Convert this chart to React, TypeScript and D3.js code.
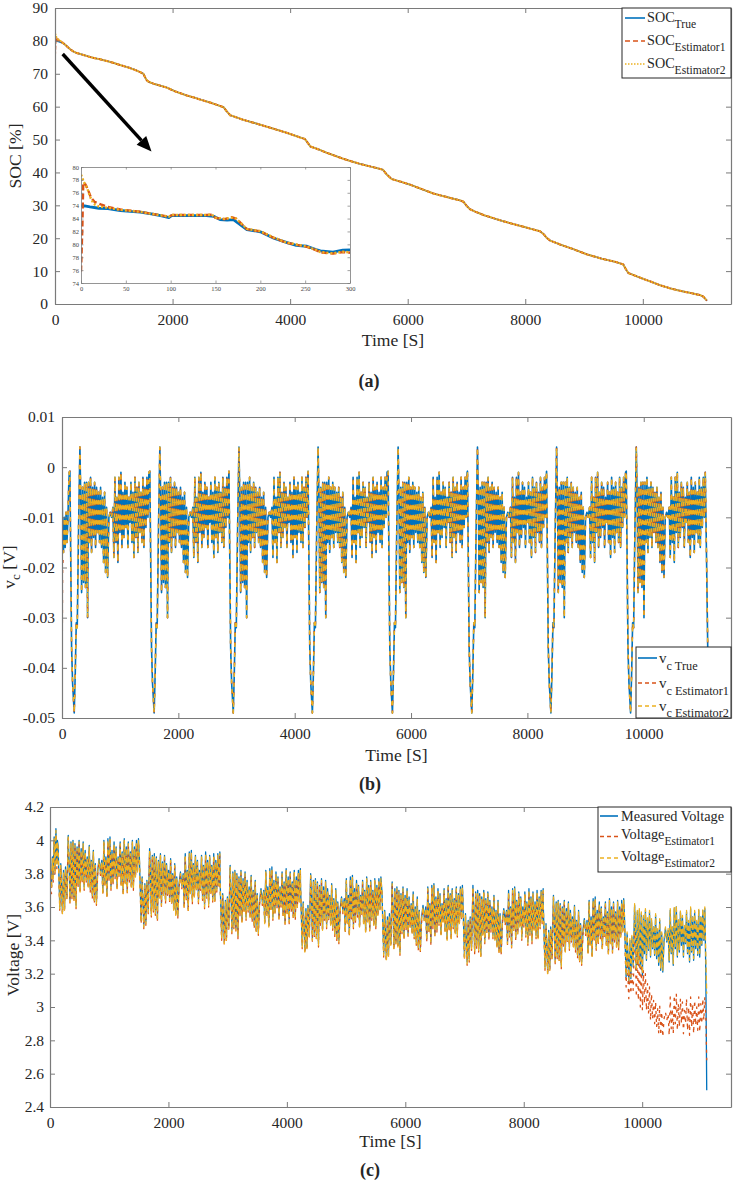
import { useEffect, useRef } from "react";
import * as d3 from "d3";

const BLUE = "#0072BD";
const RED = "#D95319";
const YELLOW = "#EDB120";
const AXIS = "#7a7a7a";
const TXT = "#262626";
const FONT = "'Liberation Serif', 'Times New Roman', serif";

// ---------- (a) SOC [%] vs time [s] ----------
const socTrue: [number, number][] = [
  [0, 80.0], [60, 79.8], [141, 79.3], [200, 78.4], [255, 77.5], [310, 76.8], [370, 76.3],
  [450, 75.9], [560, 75.3], [660, 74.8], [767, 74.4], [900, 73.8], [1000, 73.3], [1120, 72.6],
  [1250, 71.9], [1360, 71.2], [1448, 70.5], [1505, 70.0], [1530, 69.0], [1562, 68.0], [1600, 67.5],
  [1675, 67.0], [1790, 66.4], [1900, 65.8], [2050, 64.6], [2243, 63.4], [2380, 62.7], [2500, 62.0],
  [2650, 61.2], [2811, 60.2], [2870, 59.8], [2920, 58.6], [2981, 57.4], [3080, 56.8], [3200, 56.0],
  [3400, 55.0], [3606, 53.9], [3750, 53.1], [3900, 52.3], [4050, 51.4], [4174, 50.6], [4250, 50.2],
  [4300, 49.0], [4344, 47.9], [4420, 47.4], [4500, 46.9], [4620, 46.0], [4742, 45.2], [4880, 44.3],
  [5000, 43.6], [5190, 42.6], [5366, 41.8], [5500, 41.2], [5580, 40.8], [5643, 39.4], [5728, 38.0],
  [5880, 37.2], [6039, 36.3], [6230, 35.0], [6437, 33.6], [6650, 32.6], [6891, 31.5], [6948, 31.1],
  [7000, 29.9], [7060, 28.8], [7145, 28.1], [7300, 27.0], [7457, 26.1], [7620, 25.2], [7798, 24.3],
  [8030, 23.2], [8252, 22.1], [8309, 21.3], [8360, 20.2], [8422, 19.3], [8592, 18.1], [8800, 16.8],
  [9046, 15.1], [9300, 13.8], [9556, 12.7], [9669, 12.0], [9710, 10.6], [9755, 9.4], [9955, 8.0],
  [10120, 6.9], [10295, 5.7], [10460, 4.8], [10635, 4.0], [10800, 3.4], [10975, 2.7], [11032, 2.2],
  [11090, 1.0],
];
const socEst1Head: [number, number][] = [[0, 75.5], [8, 79.5], [15, 80.8], [40, 80.4], [80, 80.0]];
const socEst2Head: [number, number][] = [[0, 82.3], [20, 81.2], [60, 80.4], [100, 79.9]];
const socXTicks = [0, 2000, 4000, 6000, 8000, 10000];
const socYTicks = [0, 10, 20, 30, 40, 50, 60, 70, 80, 90];

// inset: first 300 s, y in the inset's own units (labels as printed)
const insetXTicks = [0, 50, 100, 150, 200, 250, 300];
const insetYTicks = [0, 2, 4, 6, 8, 10, 12, 14, 16, 18];
const insetYLabels = ["74", "76", "78", "80", "82", "84", "74", "76", "78", "80"];
const insetTrue: [number, number][] = [
  [0, 12.0], [4, 11.95], [10, 11.8], [20, 11.6], [30, 11.55], [44, 11.25], [55, 11.1], [66, 11.0],
  [80, 10.7], [90, 10.4], [98, 10.15], [101, 10.45], [120, 10.45], [140, 10.45], [148, 10.35],
  [155, 9.85], [163, 9.75], [170, 9.85], [185, 8.3], [200, 7.95], [215, 6.95], [229, 6.3],
  [240, 5.85], [252, 5.7], [262, 5.2], [267, 5.0], [281, 4.8], [292, 5.1], [300, 5.15],
];
const insetEst1: [number, number][] = [
  [0, 1.8], [1.5, 8.5], [2.5, 15.6], [5, 15.3], [8, 14.4], [11, 13.3], [15, 12.6], [22, 12.2],
  [30, 11.8], [44, 11.4], [66, 11.05], [80, 10.7], [98, 10.3], [102, 10.55], [140, 10.55],
  [146, 10.6], [150, 10.1], [160, 9.9], [168, 10.2], [173, 10.0], [185, 8.35], [200, 8.0],
  [215, 7.0], [229, 6.25], [252, 5.6], [262, 5.1], [267, 4.75], [281, 4.55], [292, 4.8], [300, 4.7],
];
const insetEst2: [number, number][] = [
  [0, 16.8], [1, 16.5], [3, 15.7], [7, 14.7], [10, 13.4], [14, 12.3], [20, 11.85], [29, 11.7],
  [44, 11.35], [66, 11.05], [80, 10.7], [98, 10.3], [102, 10.55], [140, 10.55], [146, 10.6],
  [150, 10.15], [160, 9.95], [168, 10.15], [173, 10.0], [185, 8.4], [200, 8.05], [215, 7.05],
  [229, 6.3], [252, 5.65], [262, 5.15], [267, 4.8], [281, 4.6], [292, 4.85], [300, 4.75],
];

const cycleStarts = [136, 1510, 2870, 4230, 5606, 6970, 8330, 9700];
const cycleOffsets = [
  0, 29, 46, 74, 92, 109, 126, 149, 172, 189, 201, 218, 235, 252, 269, 286, 304, 321, 338, 355,
  372, 390, 407, 424, 441, 458, 476, 493, 510, 527, 544, 562, 579, 596, 613, 630, 648, 670, 693, 716,
  739, 756, 774, 791, 808, 825, 842, 860, 877, 894, 911, 928, 946, 963, 980, 997, 1014, 1032, 1049, 1066,
  1083, 1100, 1118, 1135, 1152, 1169, 1186, 1204, 1221, 1238, 1255, 1272, 1290, 1307, 1324, 1341, 1358,
];
const vcCycle = [
  -0.0008, -0.036, -0.043, -0.049, -0.041, -0.031, -0.032, -0.012, 0.004, -0.008, -0.025, -0.004, -0.023, -0.003, -0.024, -0.003, -0.03, -0.003, -0.015, -0.002,
  -0.017, -0.004, -0.014, -0.003, -0.016, -0.004, -0.013, -0.005, -0.015, -0.004, -0.016, -0.006, -0.019, -0.005, -0.021, -0.008, -0.022, -0.01, -0.009, -0.01,
  -0.008, -0.018, -0.002, -0.015, -0.006, -0.019, -0.002, -0.013, -0.001, -0.016, -0.005, -0.014, -0.003, -0.012, -0.004, -0.016, -0.006, -0.011, -0.003, -0.015,
  -0.005, -0.018, -0.002, -0.014, -0.004, -0.017, -0.003, -0.013, -0.005, -0.015, -0.002, -0.016, -0.004, -0.012, -0.002, -0.01, -0.001,
];
// voltage deviation from the cycle's level [V]
const voltCycle = [
  0.03, -0.34, -0.08, -0.37, -0.12, -0.35, -0.1, -0.28, 0.09, -0.1, -0.3, 0.05, -0.27, 0.06, -0.29, 0.04, -0.33, 0.02, -0.2, 0.06,
  -0.24, 0.01, -0.18, 0.05, -0.22, 0.0, -0.17, -0.04, -0.21, 0.03, -0.23, -0.06, -0.27, 0.0, -0.3, -0.08, -0.31, -0.12, -0.05, -0.13,
  -0.06, -0.25, 0.06, -0.2, -0.04, -0.27, 0.07, -0.17, 0.08, -0.22, 0.0, -0.19, 0.05, -0.15, 0.02, -0.22, -0.04, -0.14, 0.05, -0.2,
  -0.01, -0.25, 0.07, -0.19, 0.02, -0.24, 0.05, -0.17, -0.01, -0.21, 0.06, -0.22, 0.02, -0.15, 0.06, -0.12, 0.07,
];

// ---------- (b) vc [V] ----------
const vcHeadTrue: [number, number][] = [[0, -0.001], [10, -0.013], [25, -0.017], [40, -0.01], [55, -0.016], [70, -0.009], [85, -0.015], [100, -0.011], [115, -0.004], [125, -0.001]];
const vcHeadEst1: [number, number][] = [[0, -0.045], [10, -0.02], [25, -0.017], [40, -0.01], [55, -0.016], [70, -0.009], [85, -0.015], [100, -0.011], [115, -0.004], [125, -0.001]];
const vcHeadEst2: [number, number][] = [[0, -0.02], [10, -0.015], [25, -0.017], [40, -0.01], [55, -0.016], [70, -0.009], [85, -0.015], [100, -0.011], [115, -0.004], [125, -0.001]];
const vcTail: [number, number][] = [[11080, -0.0185], [11100, -0.036]];
const vcXTicks = [0, 2000, 4000, 6000, 8000, 10000];
const vcYTicks = [-0.05, -0.04, -0.03, -0.02, -0.01, 0, 0.01];

// ---------- (c) voltage [V] ----------
const voltHeadTrue: [number, number][] = [[0, 3.92], [10, 3.76], [25, 3.72], [40, 3.9], [55, 3.78], [70, 4.02], [85, 3.82], [100, 4.07], [115, 3.86], [125, 4.0]];
const voltHeadEst1: [number, number][] = [[0, 3.74], [10, 3.7], [25, 3.68], [40, 3.86], [55, 3.75], [70, 3.99], [85, 3.79], [100, 4.04], [115, 3.83], [125, 3.97]];
const voltHeadEst2: [number, number][] = [[0, 3.86], [10, 3.75], [25, 3.71], [40, 3.89], [55, 3.77], [70, 4.01], [85, 3.81], [100, 4.06], [115, 3.85], [125, 3.99]];
const voltLevelTrue = [3.94, 3.86, 3.76, 3.71, 3.66, 3.64, 3.58, 3.52];
const voltLevelEst1 = [3.92, 3.84, 3.74, 3.69, 3.64, 3.62, 3.56, 3.5];
const voltLevelEst2 = [3.93, 3.85, 3.75, 3.7, 3.65, 3.63, 3.57, 3.53];
const voltEst1LastCycle = [
  3.5, 3.12, 3.3, 3.05, 3.22, 3.08, 3.2, 3.1, 3.45, 3.26, 3.06, 3.34, 3.04, 3.32, 3.0, 3.28, 2.98, 3.22, 3.02, 3.2,
  2.98, 3.14, 2.96, 3.12, 2.92, 3.08, 2.93, 3.04, 2.9, 3.03, 2.88, 2.99, 2.84, 3.01, 2.83, 2.97, 2.82, 2.93, 2.97, 2.92,
  2.96, 2.83, 3.06, 2.87, 2.99, 2.84, 3.07, 2.9, 3.08, 2.86, 3.02, 2.88, 3.05, 2.9, 3.03, 2.84, 2.98, 2.9, 3.05, 2.86,
  3.0, 2.83, 3.06, 2.88, 3.02, 2.84, 3.04, 2.89, 3.0, 2.86, 3.06, 2.85, 3.02, 2.9, 3.05, 2.92, 3.06,
];
const voltTailTrue: [number, number][] = [[11075, 3.2], [11090, 2.5]];
const voltTailEst1: [number, number][] = [[11075, 2.95], [11090, 2.68]];
const voltTailEst2: [number, number][] = [[11075, 3.3], [11090, 3.08]];
const voltXTicks = [0, 2000, 4000, 6000, 8000, 10000];
const voltYTicks = [2.4, 2.6, 2.8, 3, 3.2, 3.4, 3.6, 3.8, 4, 4.2];

type Pt = [number, number];

function buildVc(head: Pt[]): Pt[] {
  const pts: Pt[] = [...head];
  cycleStarts.forEach((s) => cycleOffsets.forEach((o, i) => pts.push([s + o, vcCycle[i]])));
  return pts.concat(vcTail);
}

function buildVolt(head: Pt[], levels: number[], tail: Pt[], lastCycle?: number[]): Pt[] {
  const pts: Pt[] = [...head];
  cycleStarts.forEach((s, k) =>
    cycleOffsets.forEach((o, i) => {
      const v = lastCycle && k === cycleStarts.length - 1 ? lastCycle[i] : levels[k] + voltCycle[i];
      pts.push([s + o, v]);
    })
  );
  return pts.concat(tail);
}

type Box = { left: number; right: number; top: number; bottom: number };

function frame(root: any, box: Box, x: any, y: any, xTicks: number[], yTicks: number[], yFmt: (v: number) => string, yPad: number) {
  const g = root.append("g");
  const style = (a: any) => {
    a.attr("font-family", FONT).attr("font-size", 15.5);
    a.selectAll("path.domain").attr("stroke", AXIS).attr("stroke-width", 1.2);
    a.selectAll(".tick line").attr("stroke", AXIS).attr("stroke-width", 1);
    a.selectAll("text").attr("fill", TXT);
  };
  g.append("g").attr("transform", `translate(0,${box.bottom})`)
    .call(d3.axisBottom(x).tickValues(xTicks).tickSizeInner(-5).tickSizeOuter(0).tickPadding(10).tickFormat(d3.format("d")))
    .call(style);
  g.append("g").attr("transform", `translate(0,${box.top})`)
    .call(d3.axisTop(x).tickValues(xTicks).tickSizeInner(-5).tickSizeOuter(0).tickFormat(() => ""))
    .call(style);
  g.append("g").attr("transform", `translate(${box.left},0)`)
    .call(d3.axisLeft(y).tickValues(yTicks).tickSizeInner(-5).tickSizeOuter(0).tickPadding(yPad).tickFormat((d: any) => yFmt(+d)))
    .call(style);
  g.append("g").attr("transform", `translate(${box.right},0)`)
    .call(d3.axisRight(y).tickValues(yTicks).tickSizeInner(-5).tickSizeOuter(0).tickFormat(() => ""))
    .call(style);
  return g;
}

function series(g: any, data: Pt[], x: any, y: any, color: string, width: number, dash?: string, offset = 0) {
  const line = d3.line<Pt>().x((d) => x(d[0])).y((d) => y(d[1]));
  const p = g.append("path").datum(data)
    .attr("fill", "none").attr("stroke", color).attr("stroke-width", width)
    .attr("stroke-linejoin", "round").attr("d", line);
  if (dash) p.attr("stroke-dasharray", dash).attr("stroke-dashoffset", offset);
}

function clip(root: any, id: string, box: Box) {
  root.select("defs").append("clipPath").attr("id", id).append("rect")
    .attr("x", box.left).attr("y", box.top)
    .attr("width", box.right - box.left).attr("height", box.bottom - box.top);
}

function label(root: any, x: number, y: number, text: string, size: number, opts: any = {}) {
  const t = root.append("text").attr("x", x).attr("y", y)
    .attr("font-family", FONT).attr("font-size", size).attr("fill", TXT)
    .attr("text-anchor", opts.anchor || "middle");
  if (opts.bold) t.attr("font-weight", "bold");
  if (opts.rotate) t.attr("transform", `rotate(-90,${x},${y})`);
  t.text(text);
  return t;
}

type Entry = { color: string; dash?: string; lineY: number; textY: number; main: string; sub?: string; subDy?: number };

function legend(root: any, box: { x: number; y: number; w: number; h: number }, entries: Entry[], lx: [number, number], tx: number, mainSize: number, subSize: number) {
  const g = root.append("g");
  g.append("rect").attr("x", box.x).attr("y", box.y).attr("width", box.w).attr("height", box.h)
    .attr("fill", "#fff").attr("stroke", TXT).attr("stroke-width", 1);
  entries.forEach((e) => {
    const l = g.append("line").attr("x1", lx[0]).attr("x2", lx[1]).attr("y1", e.lineY).attr("y2", e.lineY)
      .attr("stroke", e.color).attr("stroke-width", 1.6);
    if (e.dash) l.attr("stroke-dasharray", e.dash);
    const t = g.append("text").attr("x", tx).attr("y", e.textY)
      .attr("font-family", FONT).attr("font-size", mainSize).attr("fill", TXT);
    t.append("tspan").text(e.main);
    if (e.sub) t.append("tspan").attr("dy", e.subDy ?? 6).attr("font-size", subSize).text(e.sub);
  });
}

function drawSoc(root: any) {
  const box = { left: 55, right: 731, top: 8, bottom: 304 };
  const x = d3.scaleLinear().domain([0, 11500]).range([box.left, box.right]);
  const y = d3.scaleLinear().domain([0, 90]).range([box.bottom, box.top]);
  clip(root, "clipA", box);
  const g = root.append("g").attr("clip-path", "url(#clipA)");
  const est1 = socEst1Head.concat(socTrue.filter((d) => d[0] > 100));
  const est2 = socEst2Head.concat(socTrue.filter((d) => d[0] > 120));
  series(g, socTrue, x, y, BLUE, 1.6);
  series(g, est1, x, y, RED, 2, "4,2");
  series(g, est2, x, y, YELLOW, 2, "2,1");
  frame(root, box, x, y, socXTicks, socYTicks, (v) => String(v), 7);

  // zoom inset
  const ib = { left: 81, right: 350, top: 167, bottom: 283 };
  const ix = d3.scaleLinear().domain([0, 300]).range([ib.left, ib.right]);
  const iy = d3.scaleLinear().domain([0, 18]).range([ib.bottom, ib.top]);
  root.append("rect").attr("x", ib.left).attr("y", ib.top).attr("width", ib.right - ib.left).attr("height", ib.bottom - ib.top).attr("fill", "#fff");
  clip(root, "clipInset", ib);
  const ig = root.append("g").attr("clip-path", "url(#clipInset)");
  series(ig, insetTrue, ix, iy, BLUE, 2.8);
  series(ig, insetEst1, ix, iy, RED, 2.4, "6,3");
  series(ig, insetEst2, ix, iy, YELLOW, 2.4, "2,2");
  const ia = root.append("g");
  const st = (a: any) => {
    a.attr("font-family", FONT).attr("font-size", 6.5);
    a.selectAll("path.domain").attr("stroke", AXIS).attr("stroke-width", 0.8);
    a.selectAll(".tick line").attr("stroke", AXIS).attr("stroke-width", 0.7);
    a.selectAll("text").attr("fill", "#444");
  };
  ia.append("g").attr("transform", `translate(0,${ib.bottom})`)
    .call(d3.axisBottom(ix).tickValues(insetXTicks).tickSizeInner(-2.5).tickSizeOuter(0).tickPadding(3)).call(st);
  ia.append("g").attr("transform", `translate(0,${ib.top})`)
    .call(d3.axisTop(ix).tickValues(insetXTicks).tickSizeInner(-2.5).tickSizeOuter(0).tickFormat(() => "")).call(st);
  ia.append("g").attr("transform", `translate(${ib.left},0)`)
    .call(d3.axisLeft(iy).tickValues(insetYTicks).tickSizeInner(-2.5).tickSizeOuter(0).tickPadding(2)
      .tickFormat((_d: any, i: number) => insetYLabels[i])).call(st);
  ia.append("g").attr("transform", `translate(${ib.right},0)`)
    .call(d3.axisRight(iy).tickValues(insetYTicks).tickSizeInner(-2.5).tickSizeOuter(0).tickFormat(() => "")).call(st);

  // arrow pointing at the inset
  const a0: Pt = [62.7, 54];
  const a1: Pt = [151.5, 151.5];
  const ang = Math.atan2(a1[1] - a0[1], a1[0] - a0[0]);
  const hl = 15, hw = 6.5;
  const bx = a1[0] - hl * Math.cos(ang), by = a1[1] - hl * Math.sin(ang);
  root.append("line").attr("x1", a0[0]).attr("y1", a0[1]).attr("x2", bx).attr("y2", by)
    .attr("stroke", "#000").attr("stroke-width", 3.4);
  root.append("path").attr("fill", "#000").attr("d",
    `M${a1[0]},${a1[1]}L${bx + hw * Math.sin(ang)},${by - hw * Math.cos(ang)}L${bx - hw * Math.sin(ang)},${by + hw * Math.cos(ang)}Z`);

  legend(root, { x: 622, y: 8, w: 109, h: 70 }, [
    { color: BLUE, lineY: 18, textY: 22, main: "SOC", sub: "True" },
    { color: RED, dash: "5,3", lineY: 41, textY: 45, main: "SOC", sub: "Estimator1" },
    { color: YELLOW, dash: "1.5,1.5", lineY: 64, textY: 67.5, main: "SOC", sub: "Estimator2" },
  ], [625, 645], 647, 14.2, 11.6);

  label(root, 393, 346, "Time [S]", 17.6);
  label(root, 21, 156, "SOC [%]", 17.6, { rotate: true });
  label(root, 369, 387, "(a)", 18, { bold: true });
}

function drawVc(root: any) {
  const box = { left: 62, right: 731, top: 417, bottom: 718 };
  const x = d3.scaleLinear().domain([0, 11500]).range([box.left, box.right]);
  const y = d3.scaleLinear().domain([-0.05, 0.01]).range([box.bottom, box.top]);
  clip(root, "clipB", box);
  const g = root.append("g").attr("clip-path", "url(#clipB)");
  series(g, buildVc(vcHeadTrue), x, y, BLUE, 1.6);
  series(g, buildVc(vcHeadEst1), x, y, RED, 1.5, "3,7", 0);
  series(g, buildVc(vcHeadEst2), x, y, YELLOW, 1.5, "4,6", -3);
  frame(root, box, x, y, vcXTicks, vcYTicks, (v) => (Math.abs(v) < 1e-9 ? "0" : v.toFixed(2)), 7);

  const ent = (color: string, dash: string | undefined, ly: number, ty: number, sub: string): Entry =>
    ({ color, dash, lineY: ly, textY: ty, main: "v", sub, subDy: 6.5 });
  legend(root, { x: 636, y: 647, w: 95, h: 71 }, [
    ent(BLUE, undefined, 658, 663, "c True"),
    ent(RED, "4,3", 683, 688, "c Estimator1"),
    ent(YELLOW, "4,3", 706, 710.5, "c Estimator2"),
  ], [638, 657], 659, 15, 12.3);

  label(root, 396.5, 761, "Time [S]", 17.6);
  const yt = root.append("text").attr("x", 15).attr("y", 567)
    .attr("font-family", FONT).attr("font-size", 17.6).attr("fill", TXT)
    .attr("text-anchor", "middle").attr("transform", "rotate(-90,15,567)");
  yt.append("tspan").text("v");
  yt.append("tspan").attr("dy", 5).attr("font-size", 13).text("c");
  yt.append("tspan").attr("dy", -5).text(" [V]");
  label(root, 370, 790, "(b)", 18, { bold: true });
}

function drawVolt(root: any) {
  const box = { left: 50, right: 731, top: 807, bottom: 1107 };
  const x = d3.scaleLinear().domain([0, 11500]).range([box.left, box.right]);
  const y = d3.scaleLinear().domain([2.4, 4.2]).range([box.bottom, box.top]);
  clip(root, "clipC", box);
  const g = root.append("g").attr("clip-path", "url(#clipC)");
  series(g, buildVolt(voltHeadTrue, voltLevelTrue, voltTailTrue), x, y, BLUE, 1.3);
  series(g, buildVolt(voltHeadEst1, voltLevelEst1, voltTailEst1, voltEst1LastCycle), x, y, RED, 1.3, "3,5", 0);
  series(g, buildVolt(voltHeadEst2, voltLevelEst2, voltTailEst2), x, y, YELLOW, 1.3, "5,3", -3);
  frame(root, box, x, y, voltXTicks, voltYTicks, (v) => String(+v.toFixed(1)), 6);

  legend(root, { x: 598, y: 807, w: 133, h: 65 }, [
    { color: BLUE, lineY: 816, textY: 820.5, main: "Measured Voltage" },
    { color: RED, dash: "4,3", lineY: 836.5, textY: 838.5, main: "Voltage", sub: "Estimator1", subDy: 6 },
    { color: YELLOW, dash: "4,3", lineY: 858, textY: 860.5, main: "Voltage", sub: "Estimator2", subDy: 6.5 },
  ], [600, 618], 621, 14.3, 11.5);

  label(root, 390.5, 1147, "Time [S]", 17.6);
  label(root, 19, 955, "Voltage [V]", 17.6, { rotate: true });
  label(root, 370, 1176, "(c)", 18, { bold: true });
}

export default function App() {
  const ref = useRef<SVGSVGElement>(null);
  useEffect(() => {
    document.body.style.margin = "0";
    const root = d3.select(ref.current);
    root.selectAll("*").remove();
    root.append("defs");
    drawSoc(root);
    drawVc(root);
    drawVolt(root);
  }, []);
  return <svg ref={ref} width={735} height={1181} style={{ display: "block", background: "#fff" }} />;
}
